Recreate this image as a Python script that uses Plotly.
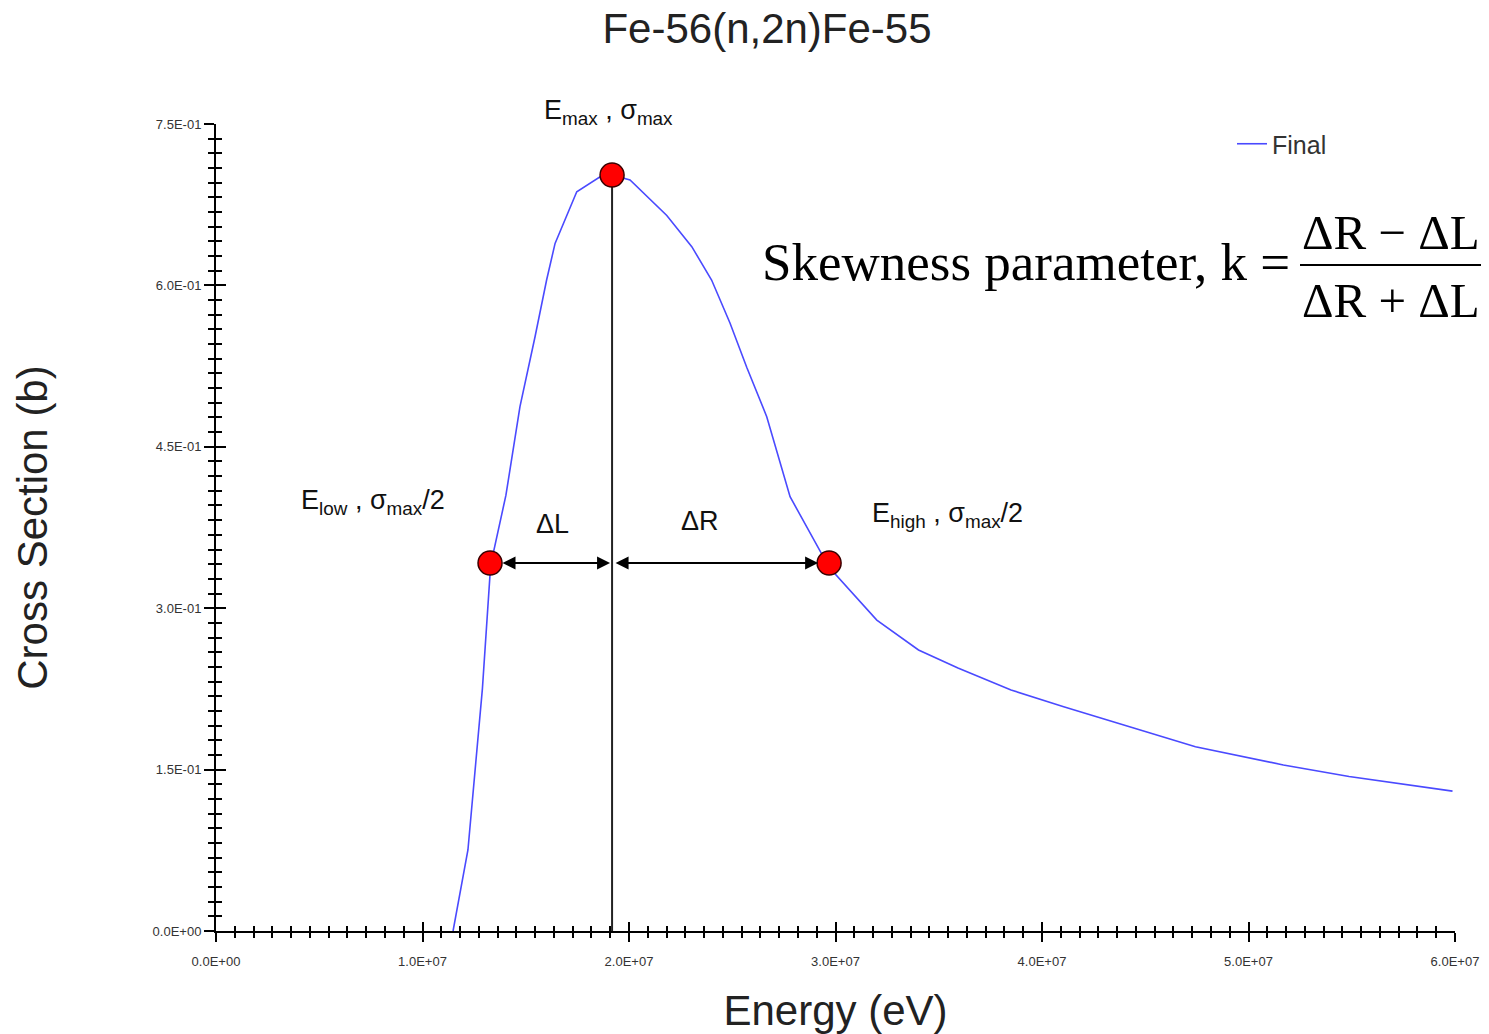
import plotly.graph_objects as go

# ---- data ----
energy_eV = [11.48e6, 12.20e6, 12.90e6, 13.30e6, 14.04e6, 14.72e6, 15.45e6, 16.01e6, 16.42e6,
             17.47e6, 18.60e6, 19.18e6, 20.05e6, 21.83e6, 23.04e6, 24.00e6, 24.89e6, 25.70e6,
             26.67e6, 27.80e6, 29.69e6, 32.00e6, 34.02e6, 35.93e6, 38.50e6, 41.05e6, 44.24e6,
             47.43e6, 51.69e6, 54.87e6, 59.88e6]
cross_section_b = [0.0, 0.0753, 0.225, 0.340, 0.405, 0.4873, 0.5523, 0.605, 0.639,
                   0.687, 0.701, 0.7026, 0.698, 0.665, 0.636, 0.605, 0.565, 0.524,
                   0.478, 0.4036, 0.338, 0.289, 0.2612, 0.2444, 0.2240, 0.2085, 0.1899,
                   0.1713, 0.1543, 0.1436, 0.1300]

key_energy = [13.27e6, 19.18e6, 29.69e6]      # E_low, E_max, E_high
key_sigma = [0.342, 0.7026, 0.342]            # sigma_max/2, sigma_max, sigma_max/2

peak_line_x = [19.18e6, 19.18e6]
peak_line_y = [0.0, 0.7026]

x_tick_vals = [0, 1e7, 2e7, 3e7, 4e7, 5e7, 6e7]
x_tick_text = ["0.0E+00", "1.0E+07", "2.0E+07", "3.0E+07", "4.0E+07", "5.0E+07", "6.0E+07"]
y_tick_vals = [0.0, 0.15, 0.30, 0.45, 0.60, 0.75]
y_tick_text = ["0.0E+00", "1.5E-01", "3.0E-01", "4.5E-01", "6.0E-01", "7.5E-01"]

X_RANGE = [0, 6e7]
Y_RANGE = [0, 0.75]

# ---- layout geometry ----
W, H = 1489, 1034
ML, MR, MT, MB = 216, 34, 124, 103
PW, PH = W - ML - MR, H - MT - MB


def px(xp):
    return (xp - ML) / PW


def py(yp):
    return (H - MB - yp) / PH


sans = "Liberation Sans, Arial, sans-serif"
serif = "Liberation Serif, Times New Roman, serif"

fig = go.Figure()

fig.add_trace(go.Scatter(x=peak_line_x, y=peak_line_y, mode="lines",
                         line=dict(color="#222222", width=2), showlegend=False, hoverinfo="skip"))
fig.add_trace(go.Scatter(x=energy_eV, y=cross_section_b, mode="lines", name="Final",
                         line=dict(color="#4a4aff", width=1.6)))
fig.add_trace(go.Scatter(x=key_energy, y=key_sigma, mode="markers", showlegend=False,
                         marker=dict(color="#ff0000", size=24, line=dict(color="#3a0000", width=1.5))))
# empty trace to activate the overlay axes (crossing ticks)
fig.add_trace(go.Scatter(x=[None], y=[None], xaxis="x2", yaxis="y2", showlegend=False, hoverinfo="skip"))

tickfont = dict(family=sans, size=13, color="#333333")
axis_common = dict(showgrid=False, zeroline=False, tickcolor="black", tickwidth=2)
big_font = dict(family=sans, size=42, color="#222222")

fig.update_layout(
    width=W, height=H,
    margin=dict(l=ML, r=MR, t=MT, b=MB, autoexpand=False),
    plot_bgcolor="white", paper_bgcolor="white",
    title=dict(text="Fe-56(n,2n)Fe-55", x=767 / W, xanchor="center", y=1 - 28 / H, yanchor="middle",
               font=big_font),
    xaxis=dict(range=X_RANGE, tickvals=x_tick_vals, ticktext=x_tick_text, ticks="outside", ticklen=9,
               showline=True, linecolor="black", linewidth=2, tickfont=tickfont, ticklabelstandoff=8,
               minor=dict(ticks="outside", ticklen=5, tickwidth=1.5, tickcolor="black",
                          tick0=0, dtick=1e7 / 11, showgrid=False),
               title=dict(text="Energy (eV)", font=big_font, standoff=30),
               **axis_common),
    yaxis=dict(range=Y_RANGE, tickvals=y_tick_vals, ticktext=y_tick_text, ticks="outside", ticklen=10,
               showline=True, linecolor="black", linewidth=2, tickfont=tickfont, ticklabelstandoff=0,
               minor=dict(ticks="outside", ticklen=6, tickwidth=1.5, tickcolor="black",
                          tick0=0, dtick=0.15 / 11, showgrid=False),
               title=dict(text="Cross Section (b)", font=big_font, standoff=92),
               **axis_common),
    xaxis2=dict(range=X_RANGE, overlaying="x", anchor="y", side="bottom", tickvals=x_tick_vals,
                ticks="inside", ticklen=9, showticklabels=False, showline=False,
                minor=dict(ticks="inside", ticklen=5, tickwidth=1.5, tickcolor="black",
                           tick0=0, dtick=1e7 / 11, showgrid=False),
                **axis_common),
    yaxis2=dict(range=Y_RANGE, overlaying="y", anchor="x", side="left", tickvals=y_tick_vals,
                ticks="inside", ticklen=10, showticklabels=False, showline=False,
                minor=dict(ticks="inside", ticklen=6, tickwidth=1.5, tickcolor="black",
                           tick0=0, dtick=0.15 / 11, showgrid=False),
                **axis_common),
    legend=dict(x=px(1232), y=py(121), xanchor="left", yanchor="top", bgcolor="rgba(0,0,0,0)",
                font=dict(family=sans, size=25, color="#333333"), itemwidth=30),
    showlegend=True,
)

lab_font = dict(family=sans, size=27, color="#111111")
annotations = [
    dict(text="E<sub>max</sub> , σ<sub>max</sub>", x=px(608), y=py(112)),
    dict(text="E<sub>low</sub> , σ<sub>max</sub>/2", x=px(373), y=py(502)),
    dict(text="ΔL", x=px(552), y=py(524)),
    dict(text="ΔR", x=px(700), y=py(521)),
    dict(text="E<sub>high</sub> , σ<sub>max</sub>/2", x=px(948), y=py(515)),
]
for a in annotations:
    fig.add_annotation(xref="paper", yref="paper", showarrow=False, xanchor="center", yanchor="middle",
                       font=lab_font, **a)

# double-headed arrows for delta L and delta R
fig.add_annotation(x=key_energy[1], y=key_sigma[0], ax=key_energy[0], ay=key_sigma[0],
                   xref="x", yref="y", axref="x", ayref="y", text="", showarrow=True,
                   arrowside="end+start", arrowhead=2, arrowsize=1.3, arrowwidth=2, arrowcolor="black",
                   standoff=2, startstandoff=11)
fig.add_annotation(x=key_energy[2], y=key_sigma[2], ax=key_energy[1], ay=key_sigma[2],
                   xref="x", yref="y", axref="x", ayref="y", text="", showarrow=True,
                   arrowside="end+start", arrowhead=2, arrowsize=1.3, arrowwidth=2, arrowcolor="black",
                   standoff=11, startstandoff=2)

# skewness formula
fig.add_annotation(xref="paper", yref="paper", x=px(1292), y=py(262), xanchor="right", yanchor="middle",
                   text="Skewness parameter, k =", showarrow=False,
                   font=dict(family=serif, size=53, color="black"))
f_font = dict(family=serif, size=49, color="black")
fig.add_annotation(xref="paper", yref="paper", x=px(1391), y=py(232), xanchor="center", yanchor="middle",
                   text="ΔR − ΔL", showarrow=False, font=f_font)
fig.add_annotation(xref="paper", yref="paper", x=px(1391), y=py(300), xanchor="center", yanchor="middle",
                   text="ΔR + ΔL", showarrow=False, font=f_font)
fig.add_shape(type="line", xref="paper", yref="paper", x0=px(1300), x1=px(1481), y0=py(265), y1=py(265),
              line=dict(color="black", width=2))

fig.write_html("out.html")
